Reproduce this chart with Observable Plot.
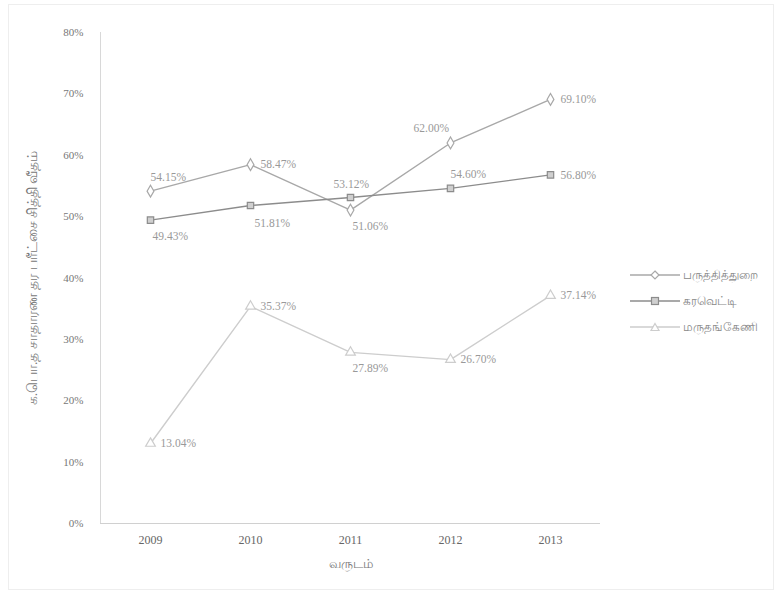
<!DOCTYPE html>
<html><head><meta charset="utf-8">
<script src="https://cdn.jsdelivr.net/npm/d3@7"></script>
<script src="https://cdn.jsdelivr.net/npm/@observablehq/plot@0.6"></script>
<style>
body{margin:0;background:#fff;}
#wrap{position:relative;width:781px;height:598px;overflow:hidden;}
#border{position:absolute;left:8px;top:4px;width:766px;height:586px;border:1px solid #eee;box-sizing:border-box;}
#legend{position:absolute;left:630px;top:262px;font-family:"Liberation Serif","Noto Sans",serif;font-size:12px;color:#888;}
#legend div{display:flex;align-items:center;height:26px;}
#legend svg{margin-right:3px;}
</style></head>
<body><div id="wrap"><div id="border"></div><div id="chart"></div><div id="legend"></div></div>
<script>
const years = ["2009","2010","2011","2012","2013"];
const seriesNames = ["பருத்தித்துறை","கரவெட்டி","மருதங்கேணி"];
const pointPedro = [54.15, 58.47, 51.06, 62.00, 69.10];
const karaveddy = [49.43, 51.81, 53.12, 54.60, 56.80];
const maruthankerny = [13.04, 35.37, 27.89, 26.70, 37.14];
const yTicks = [0,10,20,30,40,50,60,70,80];
const yLabel = "க.பொ.த சாதாரண தர பரீட்சை சித்தி வீதம்";
const xLabel = "வருடம்";

const styles = [
  {stroke:"#a8a8a8", symbol:"diamond", fill:"white"},
  {stroke:"#8c8c8c", symbol:"square", fill:"#cfcfcf"},
  {stroke:"#cdcdcd", symbol:"triangle", fill:"white"}
];
// label placement per point (presentation only)
const place = [["ne","e","se","nw","e"],["se","s","n","ne","e"],["e","e","se","e","e"]];
const offsets = {e:{dx:10,dy:0,a:"start"}, ne:{dx:0,dy:-14,a:"start"}, se:{dx:2,dy:16,a:"start"}, s:{dx:4,dy:18,a:"start"}, n:{dx:-17,dy:-13,a:"start"}, nw:{dx:-37,dy:-15,a:"start"}};

const allValues = [pointPedro, karaveddy, maruthankerny];
const data = [];
allValues.forEach((vals, si) => vals.forEach((v, i) => data.push({series: seriesNames[si], si, year: years[i], value: v, pos: place[si][i]})));

const font = '"Liberation Serif","Noto Sans",serif';
const marks = [
  Plot.frame({anchor:"left", stroke:"#d8d8d8"}),
  Plot.ruleY([0], {stroke:"#d0d0d0"}),
  Plot.axisY({ticks: yTicks, tickSize:0, tickPadding:17, tickFormat: d => d + "%", fill:"#777", fontSize:11, label: null}),
  Plot.axisY({ticks: [], tickSize:0, fill:"#777", fontSize:13.5, label: yLabel, labelAnchor:"center", labelOffset:73, labelArrow:"none"}),
  Plot.axisX({tickSize:0, tickPadding:12, fill:"#666", fontSize:12, label: null}),
  Plot.axisX({ticks: [], tickSize:0, fill:"#777", fontSize:12.5, label: xLabel, labelAnchor:"center", labelOffset:44, labelArrow:"none"})
];
styles.forEach((st, si) => {
  const d = data.filter(r => r.si === si);
  marks.push(Plot.line(d, {x:"year", y:"value", stroke: st.stroke, strokeWidth:1.4}));
  marks.push(Plot.dot(d, {x:"year", y:"value", symbol: st.symbol, r: 3.6, stroke: st.stroke, fill: st.fill, strokeWidth:1.2}));
});
Object.entries(offsets).forEach(([k, o]) => {
  marks.push(Plot.text(data.filter(r => r.pos === k), {x:"year", y:"value", text: r => r.value.toFixed(2) + "%", dx:o.dx, dy:o.dy, textAnchor:o.a, fill:"#999", fontSize:11.5}));
});

const chart = Plot.plot({
  width: 781, height: 598,
  marginLeft: 100, marginRight: 181, marginTop: 32, marginBottom: 75,
  style: {fontFamily: font, background: "transparent", color:"#777"},
  x: {type:"point", domain: years, padding: 0.5, label: null},
  y: {domain:[0,80], label: null},
  marks
});
document.getElementById("chart").appendChild(chart);

const leg = document.getElementById("legend");
const symPaths = {
  diamond: '<path d="M25,4 L29,8 L25,12 L21,8Z" fill="white" stroke="COL" stroke-width="1.2"/>',
  square: '<rect x="21.5" y="4.5" width="7" height="7" fill="#cfcfcf" stroke="COL" stroke-width="1.2"/>',
  triangle: '<path d="M25,4.5 L29,11.5 L21,11.5Z" fill="white" stroke="COL" stroke-width="1.2"/>'
};
seriesNames.forEach((n, i) => {
  const st = styles[i];
  const row = document.createElement("div");
  row.innerHTML = `<svg width="50" height="16"><line x1="0" y1="8" x2="50" y2="8" stroke="${st.stroke}" stroke-width="1.5"/>${symPaths[st.symbol].replace("COL", st.stroke)}</svg><span>${n}</span>`;
  leg.appendChild(row);
});
</script></body></html>
